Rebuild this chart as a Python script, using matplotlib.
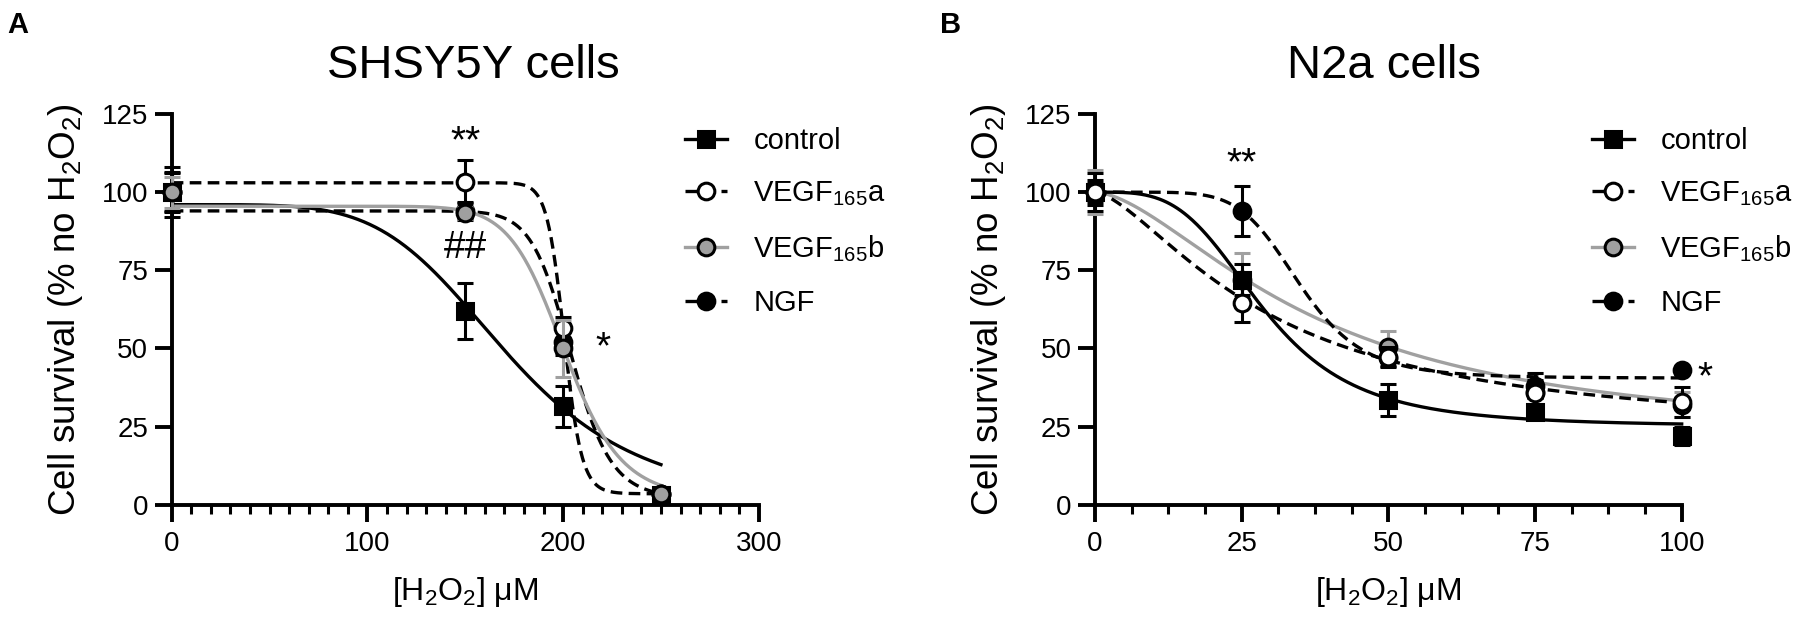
import numpy as np
import matplotlib
matplotlib.use('Agg')
import matplotlib.pyplot as plt
from matplotlib.lines import Line2D
from matplotlib.ticker import MultipleLocator

plt.rcParams['font.family'] = ['Liberation Sans', 'DejaVu Sans']
plt.rcParams['mathtext.default'] = 'regular'

# ---- data: panel A (SHSY5Y) ----
a_dose = [0, 150, 200, 250]
a_control = [100, 62, 31.5, 3]
a_control_err = [8, 9, 6.5, 1]
a_vegfa = [100, 103.4, 56.4, 3.5]
a_vegfa_err = [6.5, 7, 3.8, 1]
a_vegfb = [100, 93.4, 50, 3.5]
a_vegfb_err = [5, 2, 9.2, 1]
a_ngf = [100, 94, 52, 3.4]
a_ngf_err = [6, 3, 4, 1]

# ---- data: panel B (N2a) ----
b_dose = [0, 25, 50, 75, 100]
b_control = [100, 72, 33.5, 29.8, 22]
b_control_err = [6, 5, 5, 2, 3]
b_vegfa = [100, 64.5, 47.4, 35.8, 33]
b_vegfa_err = [3, 6, 3, 4, 4.8]
b_vegfb = [100, 72, 50.6, 36, 32]
b_vegfb_err = [7, 8.5, 5, 6, 4]
b_ngf = [100, 93.9, 47, 38, 43]
b_ngf_err = [4, 8, 3, 4, 1]

# fitted dose-response curves: top, bottom, IC50, hill slope
a_fit_control = [96, 0, 172, 5]
a_fit_vegfa = [103, 3.5, 200.6, 45]
a_fit_vegfb = [95.5, 2, 200.9, 14]
a_fit_ngf = [94, 2, 204.1, 20]
b_fit_control = [100, 25, 28.8, 3.62]
b_fit_vegfa = [100, 22, 29.6, 1.52]
b_fit_vegfb = [100, 20, 37.4, 1.65]
b_fit_ngf = [100, 40.5, 35, 6.5]

labels = ['control', 'VEGF$_{165}$a', 'VEGF$_{165}$b', 'NGF']

GRAY = '#a0a0a0'
DASH = (0, (3.5, 1.9))
# style per group: line colour, linestyle, marker, face colour, errorbar colour
styles = {
    'control': ('black', '-', 's', 'black', 'black'),
    'vegfa': ('black', DASH, 'o', 'white', 'black'),
    'vegfb': (GRAY, '-', 'o', GRAY, GRAY),
    'ngf': ('black', DASH, 'o', 'black', 'black'),
}


def logistic(x, p):
    top, bottom, ic50, hill = p
    return bottom + (top - bottom) / (1 + (x / ic50) ** hill)


def draw_group(ax, key, dose, y, err, fit, xmax, z):
    lc, ls, mk, fc, ec = styles[key]
    xs = np.linspace(0, xmax, 500)
    ax.plot(xs, logistic(xs, fit), color=lc, ls=ls, lw=2.4, zorder=2, clip_on=False)
    eb = ax.errorbar(dose, y, yerr=err, fmt='none', ecolor=ec, elinewidth=2.2,
                     capsize=6, capthick=2.2, zorder=z)
    for ch in eb.get_children():
        ch.set_clip_on(False)
    ax.plot(dose, y, ls='none', marker=mk, ms=12, mfc=fc, mec='black', mew=2.2,
            zorder=z + 0.5, clip_on=False)


def style_axes(ax, xmax, major, minor):
    ax.set_xlim(0, xmax)
    ax.set_ylim(0, 125)
    for s in ['top', 'right']:
        ax.spines[s].set_visible(False)
    for s in ['left', 'bottom']:
        ax.spines[s].set_linewidth(2.8)
    ax.xaxis.set_major_locator(MultipleLocator(major))
    ax.xaxis.set_minor_locator(MultipleLocator(minor))
    ax.yaxis.set_major_locator(MultipleLocator(25))
    ax.tick_params(which='major', length=12, width=2.8, labelsize=20)
    ax.tick_params(which='minor', length=6.5, width=2.2)
    ax.tick_params(axis='x', which='major', pad=7)
    ax.tick_params(axis='y', which='major', pad=5)
    ax.set_xlabel('[H$_2$O$_2$] \u03bcM', fontsize=23, labelpad=13)
    ax.set_ylabel('Cell survival (% no H$_2$O$_2$)', fontsize=26.5, labelpad=12)


def add_legend(ax, xpos):
    handles = []
    for key in ['control', 'vegfa', 'vegfb', 'ngf']:
        lc, ls, mk, fc, ec = styles[key]
        handles.append(Line2D([], [], color=lc, ls=ls, lw=2.4, marker=mk, ms=12,
                              mfc=fc, mec='black', mew=2.2))
    ax.legend(handles, labels, loc='upper left', bbox_to_anchor=(xpos, 0.967),
              frameon=False, fontsize=21, handlelength=1.45, handletextpad=0.9,
              labelspacing=0.85, borderpad=0, borderaxespad=0)


fig = plt.figure(figsize=(18.08, 6.2), dpi=100)
axA = fig.add_axes([171.7 / 1808, 115.3 / 620, 587.1 / 1808, 390.7 / 620])
axB = fig.add_axes([1095 / 1808, 115.3 / 620, 586.7 / 1808, 390.7 / 620])

# panel A
draw_group(axA, 'control', a_dose, a_control, a_control_err, a_fit_control, 250, 3)
draw_group(axA, 'ngf', a_dose, a_ngf, a_ngf_err, a_fit_ngf, 250, 4)
draw_group(axA, 'vegfa', a_dose, a_vegfa, a_vegfa_err, a_fit_vegfa, 250, 5)
draw_group(axA, 'vegfb', a_dose, a_vegfb, a_vegfb_err, a_fit_vegfb, 250, 6)
style_axes(axA, 300, 100, 10)
add_legend(axA, 0.874)
axA.text(150, 116, '**', fontsize=28, ha='center', va='center')
axA.text(150, 82, '##', fontsize=28, ha='center', va='center')
axA.text(220.5, 50, '*', fontsize=28, ha='center', va='center')
axA.text(0.5136, 1.0914, 'SHSY5Y cells', transform=axA.transAxes, ha='center',
         va='baseline', fontsize=34)

# panel B
draw_group(axB, 'vegfb', b_dose, b_vegfb, b_vegfb_err, b_fit_vegfb, 100, 3)
draw_group(axB, 'control', b_dose, b_control, b_control_err, b_fit_control, 100, 4)
draw_group(axB, 'ngf', b_dose, b_ngf, b_ngf_err, b_fit_ngf, 100, 5)
draw_group(axB, 'vegfa', b_dose, b_vegfa, b_vegfa_err, b_fit_vegfa, 100, 6)
style_axes(axB, 100, 25, 6.25)
add_legend(axB, 0.847)
axB.text(25, 109, '**', fontsize=28, ha='center', va='center')
axB.text(104, 40.5, '*', fontsize=28, ha='center', va='center')
axB.text(0.4927, 1.0914, 'N2a cells', transform=axB.transAxes, ha='center',
         va='baseline', fontsize=34)

fig.text(7 / 1808, 1 - 33 / 620, 'A', fontsize=21, fontweight='bold', va='baseline')
fig.text(940 / 1808, 1 - 33 / 620, 'B', fontsize=21, fontweight='bold', va='baseline')

fig.savefig('out.png', dpi=100)
